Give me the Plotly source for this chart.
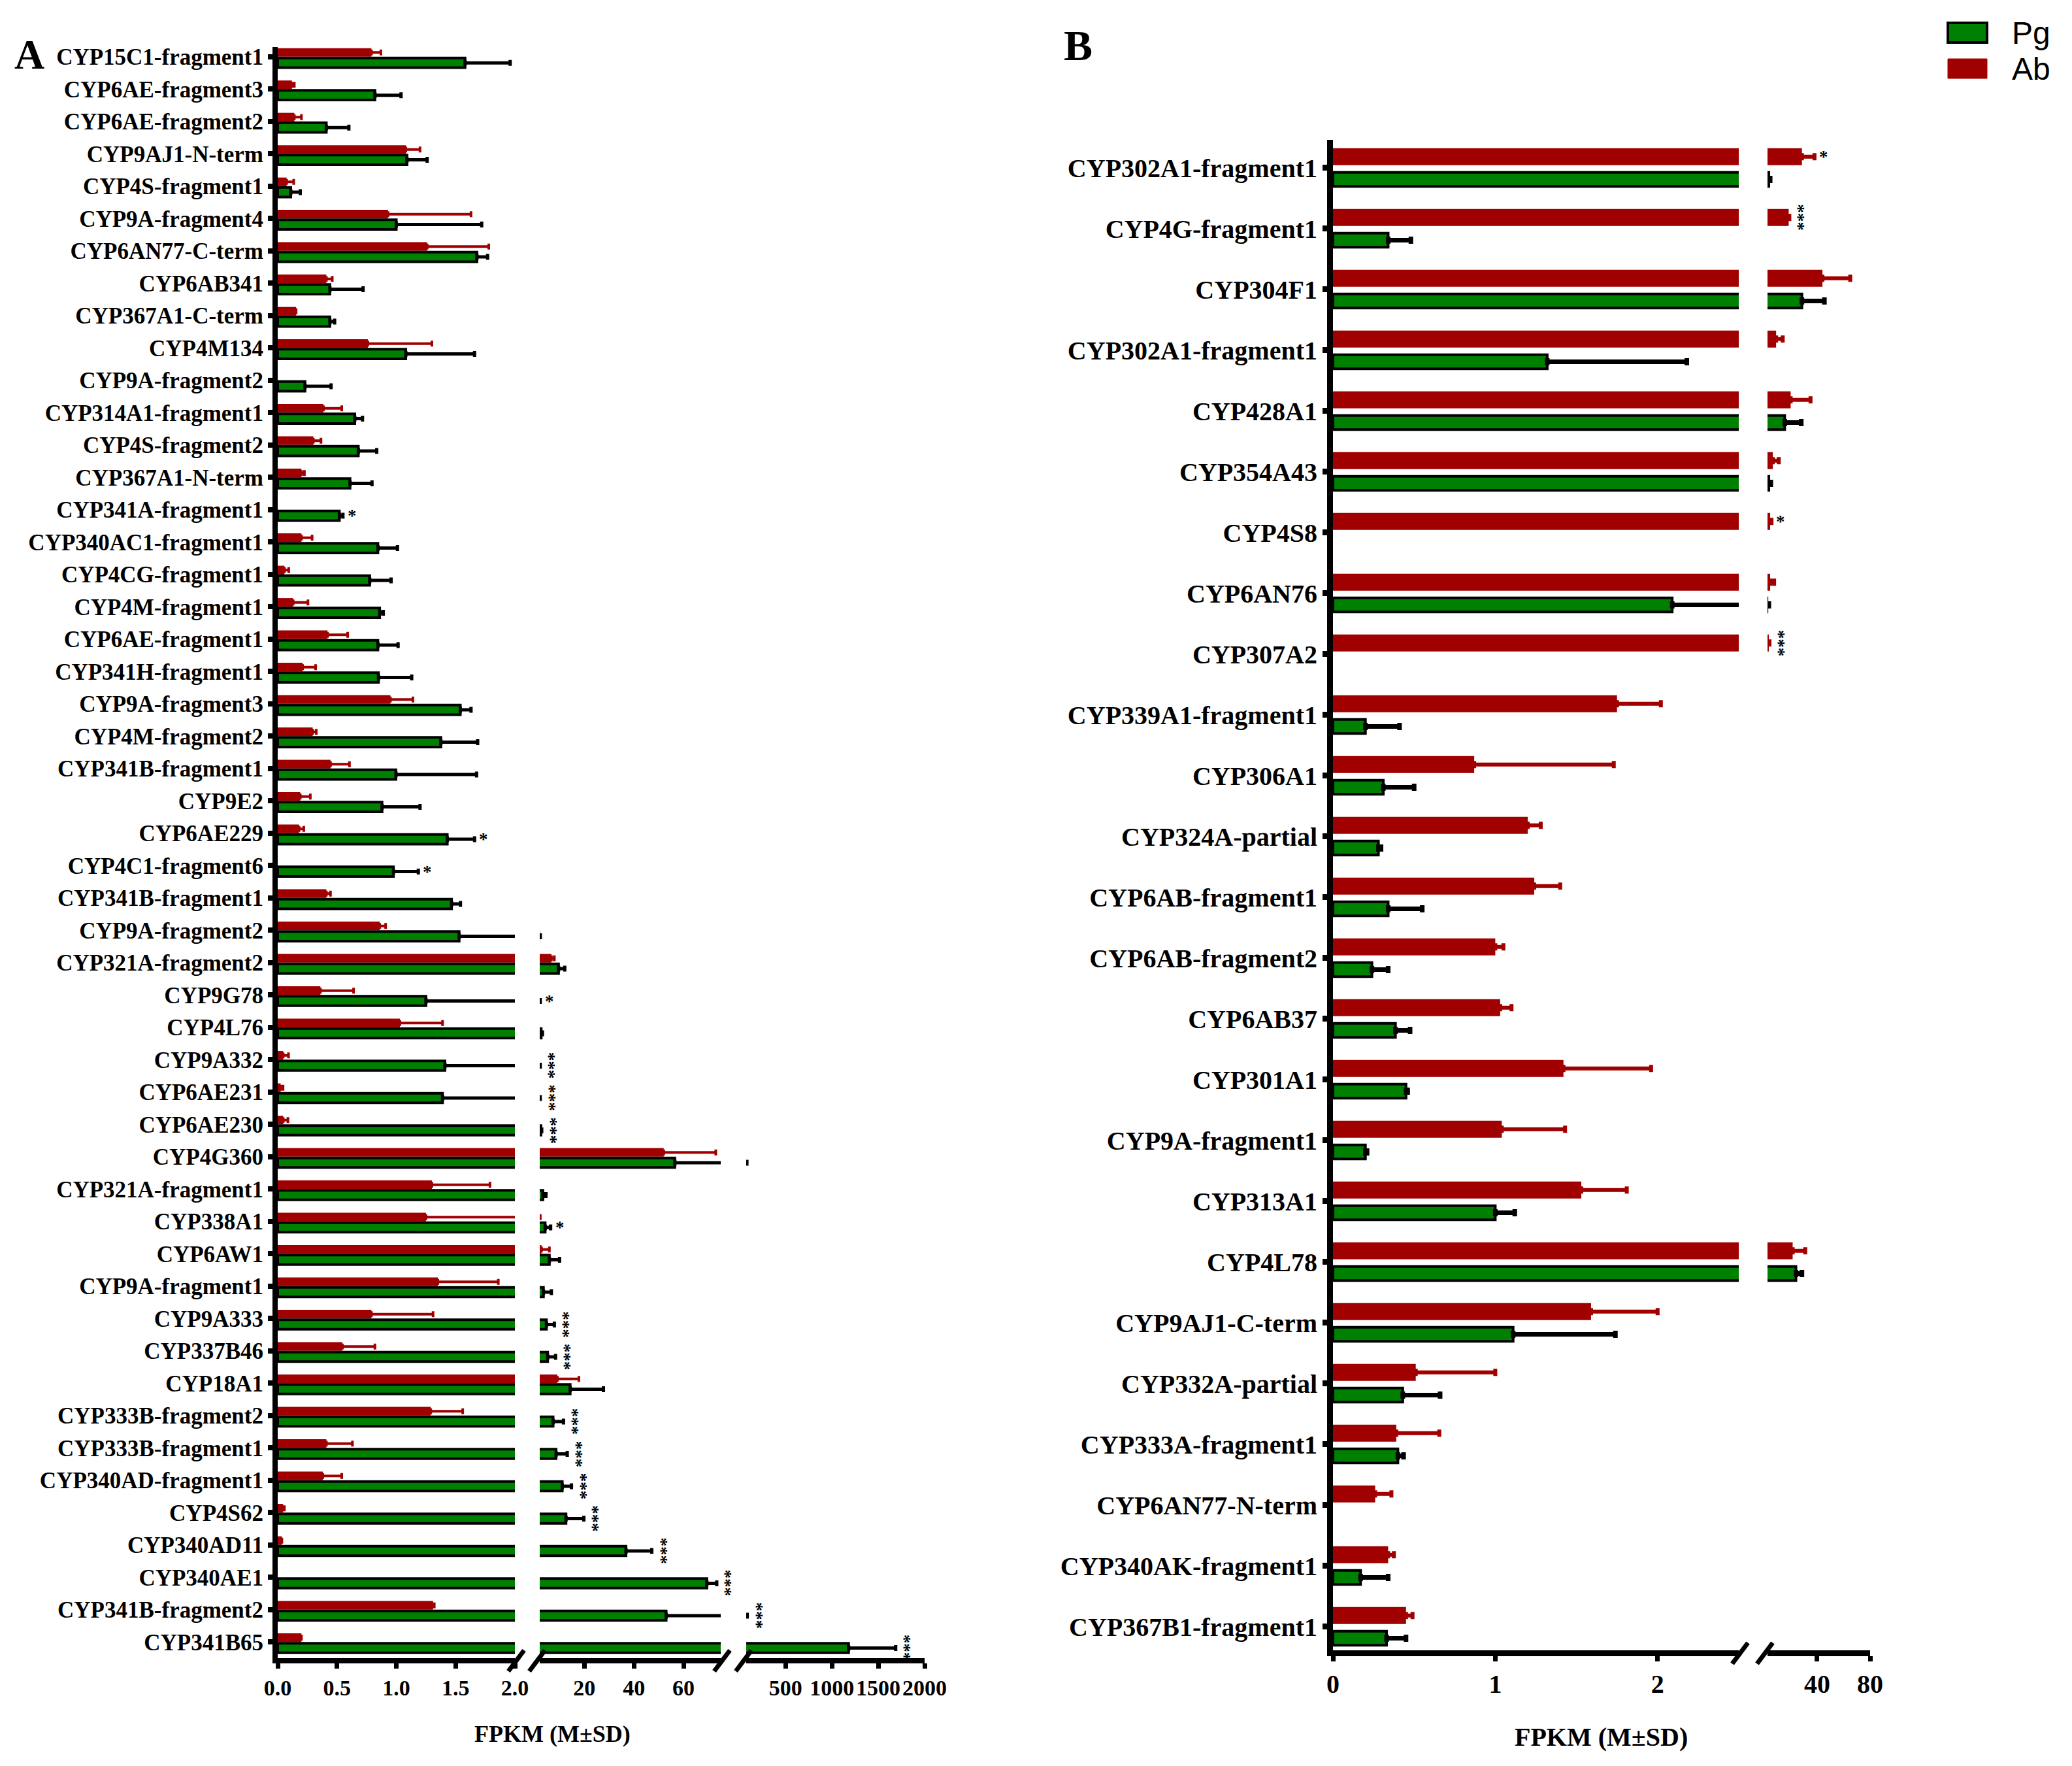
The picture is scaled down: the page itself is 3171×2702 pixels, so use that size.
import plotly.graph_objects as go

W, H = 3171, 2702
PAGE_MARGIN = 8  # default body margin of the html page
FIG_W, FIG_H = W - 2 * PAGE_MARGIN, H - 2 * PAGE_MARGIN
SERIF = "Liberation Serif"
SANS = "Liberation Sans"
GREEN = "#008000"
RED = "#A00000"

# ---- panel A data (FPKM, mean and SD) ----
genes_a = [
    "CYP15C1-fragment1", "CYP6AE-fragment3", "CYP6AE-fragment2", "CYP9AJ1-N-term",
    "CYP4S-fragment1", "CYP9A-fragment4", "CYP6AN77-C-term", "CYP6AB341",
    "CYP367A1-C-term", "CYP4M134", "CYP9A-fragment2", "CYP314A1-fragment1",
    "CYP4S-fragment2", "CYP367A1-N-term", "CYP341A-fragment1", "CYP340AC1-fragment1",
    "CYP4CG-fragment1", "CYP4M-fragment1", "CYP6AE-fragment1", "CYP341H-fragment1",
    "CYP9A-fragment3", "CYP4M-fragment2", "CYP341B-fragment1", "CYP9E2",
    "CYP6AE229", "CYP4C1-fragment6", "CYP341B-fragment1", "CYP9A-fragment2",
    "CYP321A-fragment2", "CYP9G78", "CYP4L76", "CYP9A332",
    "CYP6AE231", "CYP6AE230", "CYP4G360", "CYP321A-fragment1",
    "CYP338A1", "CYP6AW1", "CYP9A-fragment1", "CYP9A333",
    "CYP337B46", "CYP18A1", "CYP333B-fragment2", "CYP333B-fragment1",
    "CYP340AD-fragment1", "CYP4S62", "CYP340AD11", "CYP340AE1",
    "CYP341B-fragment2", "CYP341B65",
]
pg_a = [
    1.58, 0.82, 0.41, 1.09, 0.11, 1.00, 1.68, 0.44, 0.44, 1.08,
    0.23, 0.65, 0.68, 0.61, 0.52, 0.845, 0.776, 0.86, 0.845, 0.85,
    1.54, 1.376, 0.997, 0.88, 1.43, 0.976, 1.466, 1.53, 9.6, 1.25,
    2.6, 1.41, 1.39, 2.5, 56.5, 3.3, 4.2, 5.9, 3.5, 4.7,
    5.2, 14.3, 7.4, 8.6, 11.1, 12.6, 36.8, 69.4, 53.0, 1180,
]
pg_sd_a = [
    0.38, 0.22, 0.19, 0.17, 0.08, 0.72, 0.09, 0.28, 0.04, 0.58,
    0.22, 0.065, 0.155, 0.185, 0.03, 0.165, 0.18, 0.03, 0.17, 0.28,
    0.09, 0.31, 0.68, 0.32, 0.23, 0.21, 0.075, 0.70, 2.5, 0.95,
    0.5, 0.80, 0.80, 0.3, 26.0, 1.2, 2.2, 4.1, 3.2, 3.2,
    3.2, 13.4, 4.2, 4.5, 3.7, 7.2, 10.4, 4.0, 33.0, 508,
]
ab_a = [
    0.79, 0.12, 0.14, 1.08, 0.075, 0.93, 1.26, 0.41, 0.155, 0.76,
    0.0, 0.385, 0.30, 0.20, 0.0, 0.20, 0.057, 0.13, 0.42, 0.21,
    0.95, 0.295, 0.445, 0.19, 0.18, 0.0, 0.41, 0.86, 6.7, 0.36,
    1.03, 0.046, 0.025, 0.046, 52.0, 1.30, 1.25, 2.7, 1.35, 0.79,
    0.545, 9.1, 1.29, 0.41, 0.38, 0.046, 0.035, 0.0, 1.31, 0.20,
]
ab_sd_a = [
    0.08, 0.02, 0.06, 0.12, 0.06, 0.70, 0.52, 0.05, 0.0, 0.54,
    0.0, 0.155, 0.065, 0.025, 0.0, 0.09, 0.036, 0.125, 0.17, 0.11,
    0.19, 0.03, 0.16, 0.085, 0.04, 0.0, 0.035, 0.05, 1.2, 0.28,
    0.36, 0.045, 0.02, 0.04, 21.0, 0.49, 0.97, 3.2, 0.51, 0.52,
    0.275, 8.7, 0.27, 0.22, 0.16, 0.01, 0.0, 0.0, 0.01, 0.0,
]
sig_a = [
    "", "", "", "", "", "", "", "", "", "",
    "", "", "", "", "*", "", "", "", "", "",
    "", "", "", "", "*", "*", "", "", "", "*",
    "", "***", "***", "***", "", "", "*", "", "", "***",
    "***", "", "***", "***", "***", "***", "***", "***", "***", "***",
]

# ---- panel B data ----
genes_b = [
    "CYP302A1-fragment1", "CYP4G-fragment1", "CYP304F1", "CYP302A1-fragment1",
    "CYP428A1", "CYP354A43", "CYP4S8", "CYP6AN76", "CYP307A2",
    "CYP339A1-fragment1", "CYP306A1", "CYP324A-partial", "CYP6AB-fragment1",
    "CYP6AB-fragment2", "CYP6AB37", "CYP301A1", "CYP9A-fragment1", "CYP313A1",
    "CYP4L78", "CYP9AJ1-C-term", "CYP332A-partial", "CYP333A-fragment1",
    "CYP6AN77-N-term", "CYP340AK-fragment1", "CYP367B1-fragment1",
]
pg_b = [3.5, 0.34, 28.5, 1.32, 15.5, 3.5, 0.0, 2.09, 0.0,
        0.20, 0.31, 0.28, 0.34, 0.24, 0.385, 0.45, 0.20, 1.0,
        24.0, 1.11, 0.43, 0.40, 0.0, 0.17, 0.33]
pg_sd_b = [1.0, 0.14, 17.0, 0.86, 12.5, 1.5, 0.0, 1.4, 0.0,
           0.21, 0.19, 0.016, 0.21, 0.10, 0.09, 0.01, 0.01, 0.12,
           4.5, 0.63, 0.23, 0.035, 0.0, 0.17, 0.12]
ab_b = [28.5, 18.5, 44.0, 9.0, 20.0, 6.5, 4.5, 4.5, 3.5,
        1.75, 0.87, 1.20, 1.24, 1.0, 1.03, 1.42, 1.04, 1.53,
        21.5, 1.59, 0.51, 0.39, 0.26, 0.34, 0.45]
ab_sd_b = [9.5, 0.5, 21.0, 5.0, 15.0, 4.5, 1.0, 3.0, 0.5,
           0.27, 0.86, 0.08, 0.16, 0.05, 0.07, 0.54, 0.39, 0.28,
           9.5, 0.41, 0.49, 0.265, 0.10, 0.035, 0.04]
sig_b = ["*", "***", "", "", "", "", "*", "", "***",
         "", "", "", "", "", "", "", "", "",
         "", "", "", "", "", "", ""]

# broken x axes: value ranges and ticks
segs_a = [(0, 2), (2, 75), (75, 2000)]
ticks_a = [[0, 0.5, 1, 1.5, 2], [20, 40, 60], [500, 1000, 1500, 2000]]
ticktext_a = [["0.0", "0.5", "1.0", "1.5", "2.0"], ["20", "40", "60"], ["500", "1000", "1500", "2000"]]
segs_b = [(0, 2.5), (2.5, 80)]
ticks_b = [[0, 1, 2], [40, 80]]
ticktext_b = [["0", "1", "2"], ["40", "80"]]

# pixel placement (page pixels) of each axis segment
dom_a = [(425, 788), (826, 1103), (1142, 1415)]
dom_b = [(2040, 2661), (2705, 2862)]


def px(x):
    return (x - PAGE_MARGIN) / FIG_W


def py(y):
    return 1 - (y - PAGE_MARGIN) / FIG_H


fig = go.Figure()
layout = {}
annotations = []
shapes = []


def clip_to(vals, sds, lo, first):
    # drop empty bars, and marks that lie completely left of a later segment
    keep = [x > 0 and (first or x + s >= lo) for x, s in zip(vals, sds)]
    v = [x if k else None for x, k in zip(vals, keep)]
    e = [s if k else None for s, k in zip(sds, keep)]
    return v, e


def add_panel(cats, pg, pg_sd, ab, ab_sd, sig, segs, doms, ticks, ticktext, x_ids, y_id,
              ydom, yrange, red_geom, green_geom, st):
    n = len(cats)
    ys = list(range(n))
    zeros = [0] * n
    for k, ((lo, hi), xid) in enumerate(zip(segs, x_ids)):
        ab_v, ab_e = clip_to(ab, ab_sd, lo, k == 0)
        pg_v, pg_e = clip_to(pg, pg_sd, lo, k == 0)
        fig.add_trace(go.Bar(
            y=ys, x=ab_v, orientation="h", xaxis=xid, yaxis=y_id, name="Ab",
            offset=red_geom[0], width=red_geom[1],
            marker=dict(color=RED, line=dict(width=0)),
            error_x=dict(type="data", symmetric=False, array=ab_e, arrayminus=zeros,
                         color=RED, thickness=st["err_t"] - 1, width=st["err_w"]),
            showlegend=False,
        ))
        fig.add_trace(go.Bar(
            y=ys, x=pg_v, orientation="h", xaxis=xid, yaxis=y_id, name="Pg",
            offset=green_geom[0], width=green_geom[1],
            marker=dict(color=GREEN, line=dict(width=4, color="black")),
            error_x=dict(type="data", symmetric=False, array=pg_e, arrayminus=zeros,
                         color="black", thickness=st["err_t"], width=st["err_w"]),
            showlegend=False,
        ))

    for (lo, hi), (d0, d1), tv, tt, xid in zip(segs, doms, ticks, ticktext, x_ids):
        layout["xaxis" + xid[1:]] = dict(
            domain=[px(d0), px(d1)], range=[lo, hi], anchor=y_id,
            showline=True, linewidth=st["line"], linecolor="black",
            ticks="outside", ticklen=8, tickwidth=7, tickcolor="black",
            tickvals=tv, ticktext=tt, tickangle=0, automargin=False,
            tickfont=dict(family=SERIF, size=st["tick"], color="black", weight="bold"),
            showgrid=False, zeroline=False, fixedrange=True,
        )

    layout["yaxis" + y_id[1:]] = dict(
        domain=[py(ydom[1]), py(ydom[0])], range=yrange, anchor=x_ids[0],
        showline=True, linewidth=st["line"], linecolor="black",
        ticks="outside", ticklen=7, tickwidth=st["line"], tickcolor="black",
        tickvals=ys, ticktext=cats, automargin=False,
        tickfont=dict(family=SERIF, size=st["label"], color="black", weight="bold"),
        showgrid=False, zeroline=False, fixedrange=True,
    )

    # significance marks next to the longest error bar of each pair
    for i, s in enumerate(sig):
        if not s:
            continue
        tip_pg = pg[i] + pg_sd[i]
        tip_ab = ab[i] + ab_sd[i]
        tip = max(tip_pg, tip_ab)
        geom = green_geom if tip_pg >= tip_ab else red_geom
        xid = x_ids[-1]
        for (lo, hi), cand in zip(segs, x_ids):
            if tip <= hi:
                xid = cand
                break
        annotations.append(dict(
            x=tip, y=i + geom[0] + geom[1] / 2, xref=xid, yref=y_id,
            text=s, textangle=90 if len(s) > 1 else 0, showarrow=False,
            xanchor="center", yanchor="middle", xshift=14,
            font=dict(family=SERIF, size=st["star"], color="black", weight="bold"),
        ))

    # break marks on the bottom axis
    axis_y = ydom[1] + st["line"] / 2
    for k in range(len(doms) - 1):
        for xc in (doms[k][1] + 2, doms[k + 1][0] - 4):
            shapes.append(dict(
                type="line", xref="paper", yref="paper",
                x0=px(xc - 12), x1=px(xc + 12), y0=py(axis_y + 16), y1=py(axis_y - 16),
                line=dict(color="black", width=7),
            ))


style_a = dict(label=35, tick=34, star=27, line=8, err_t=5, err_w=4.5)
style_b = dict(label=40, tick=40, star=27, line=9, err_t=7, err_w=5.5)

add_panel(genes_a, pg_a, pg_sd_a, ab_a, ab_sd_a, sig_a, segs_a, dom_a, ticks_a, ticktext_a,
          ["x", "x2", "x3"], "y", (72, 2537), [49.5, -0.3],
          (-0.267, 0.267), (0.04, 0.295), style_a)
add_panel(genes_b, pg_b, pg_sd_b, ab_b, ab_sd_b, sig_b, segs_b, dom_b, ticks_b, ticktext_b,
          ["x4", "x5"], "y2", (214, 2525), [24.39, -0.46],
          (-0.322, 0.279), (0.075, 0.232), style_b)

# axis titles and panel letters
annotations += [
    dict(x=px(845), y=py(2653), xref="paper", yref="paper", text="FPKM (M±SD)", showarrow=False,
         xanchor="center", yanchor="middle",
         font=dict(family=SERIF, size=36, color="black", weight="bold")),
    dict(x=px(2450), y=py(2657), xref="paper", yref="paper", text="FPKM (M±SD)", showarrow=False,
         xanchor="center", yanchor="middle",
         font=dict(family=SERIF, size=40, color="black", weight="bold")),
    dict(x=px(45), y=py(84), xref="paper", yref="paper", text="A", showarrow=False,
         xanchor="center", yanchor="middle",
         font=dict(family=SERIF, size=64, color="black", weight="bold")),
    dict(x=px(1650), y=py(70), xref="paper", yref="paper", text="B", showarrow=False,
         xanchor="center", yanchor="middle",
         font=dict(family=SERIF, size=66, color="black", weight="bold")),
]

# legend drawn by hand so the swatches match the original size
legend_items = [("Pg", GREEN, 50), ("Ab", RED, 105)]
for name, color, yc in legend_items:
    outlined = name == "Pg"
    shapes.append(dict(
        type="rect", xref="paper", yref="paper",
        x0=px(2981), x1=px(3041), y0=py(yc - 15), y1=py(yc + 15),
        fillcolor=color,
        line=dict(color="black" if outlined else color, width=4 if outlined else 1),
    ))
    annotations.append(dict(
        x=px(3077), y=py(yc), xref="paper", yref="paper", text=name, showarrow=False,
        xanchor="left", yanchor="middle",
        font=dict(family=SANS, size=48, color="black"),
    ))

fig.update_layout(
    **layout,
    template="none",
    width=FIG_W, height=FIG_H, autosize=False,
    margin=dict(l=0, r=0, t=0, b=0, pad=0),
    barmode="overlay",
    paper_bgcolor="white", plot_bgcolor="white",
    showlegend=False,
    annotations=annotations,
    shapes=shapes,
)

fig.write_html("out.html")
